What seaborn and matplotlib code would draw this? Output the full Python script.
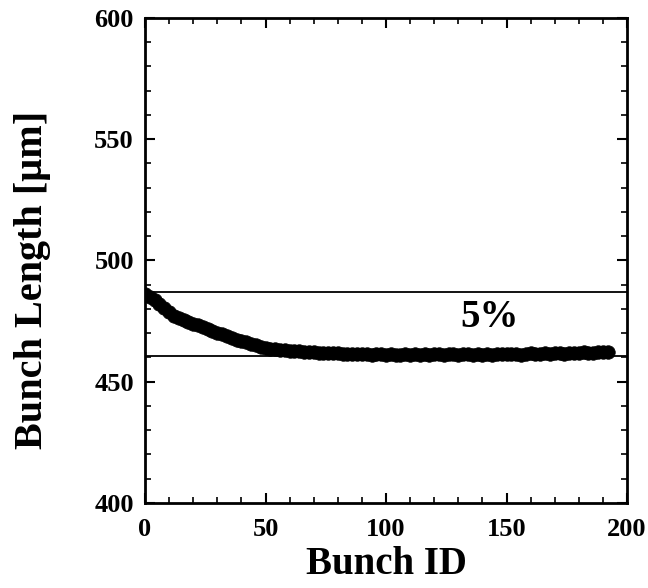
import numpy as np
import pandas as pd
import matplotlib
matplotlib.use("Agg")
import matplotlib.pyplot as plt
from matplotlib.ticker import MultipleLocator
import seaborn as sns

# Bunch ID (every second bunch)
bunch_id = list(range(0, 194, 2))

# Bunch length in micrometres
bunch_length = [
    486.0, 485.0, 483.6, 482.2, 480.5, 478.8, 477.3, 476.3, 475.4, 474.6,
    474.0, 473.3, 472.6, 471.8, 471.0, 470.2, 469.5, 468.8, 468.1, 467.4,
    466.8, 466.2, 465.6, 465.0, 464.5, 464.1, 463.7, 463.4, 463.2, 463.0,
    462.8, 462.7, 462.5, 462.4, 462.3, 462.1, 461.9, 462.0, 461.8, 461.7,
    461.8, 461.5, 461.4, 461.6, 461.3, 461.4, 461.5, 461.2, 461.3, 461.4,
    461.2, 461.4, 461.0, 461.2, 461.4, 461.1, 461.3, 461.1, 461.3, 461.2,
    461.4, 461.3, 461.1, 461.4, 461.3, 461.2, 461.5, 461.3, 461.2, 461.4,
    461.1, 461.4, 461.2, 461.3, 461.5, 461.3, 461.5, 461.4, 461.2, 461.5,
    461.7, 461.4, 461.6, 461.8, 461.5, 461.7, 461.9, 461.6, 462.0, 461.7,
    461.9, 462.1, 461.8, 462.0, 462.2, 462.4, 462.3,
]

# the two reference levels (5% band)
band_levels = [486.9, 460.6]
band_text = "5%"

df = pd.DataFrame({"Bunch ID": bunch_id, "Bunch Length": bunch_length})

sns.set_theme(style="ticks")
plt.rcParams["font.family"] = ["Liberation Serif", "DejaVu Serif"]
plt.rcParams["font.weight"] = "bold"
plt.rcParams["text.color"] = "black"
plt.rcParams["axes.labelcolor"] = "black"
plt.rcParams["xtick.color"] = "black"
plt.rcParams["ytick.color"] = "black"

fig = plt.figure(figsize=(6.48, 5.88), dpi=100)
ax = fig.add_axes([0.2238, 0.1446, 0.7438, 0.8248])

for lvl in band_levels:
    ax.axhline(lvl, color="black", lw=1.3, zorder=1)

sns.scatterplot(data=df, x="Bunch ID", y="Bunch Length", ax=ax,
                color="black", edgecolor="black", s=95, linewidth=0.5,
                legend=False, zorder=3)

ax.text(143, 476.3, band_text, fontsize=28, fontweight="bold",
        ha="center", va="center", color="black")

ax.set_xlim(0, 200)
ax.set_ylim(400, 600)
ax.xaxis.set_major_locator(MultipleLocator(50))
ax.xaxis.set_minor_locator(MultipleLocator(10))
ax.yaxis.set_major_locator(MultipleLocator(50))
ax.yaxis.set_minor_locator(MultipleLocator(10))
ax.tick_params(which="both", direction="in", top=True, right=True)
ax.tick_params(which="major", length=7, width=1.5, labelsize=19)
ax.tick_params(axis="x", which="major", pad=11)
ax.tick_params(axis="y", which="major", pad=8)
ax.tick_params(which="minor", length=4, width=1.2)
for lab in ax.get_xticklabels() + ax.get_yticklabels():
    lab.set_fontweight("bold")
for sp in ax.spines.values():
    sp.set_linewidth(2)
    sp.set_color("black")

ax.set_xlabel("Bunch ID", fontsize=28, fontweight="bold")
ax.set_ylabel("Bunch Length [μm]", fontsize=29, fontweight="bold")
ax.xaxis.set_label_coords(0.5, -0.088)
ax.yaxis.set_label_coords(-0.195, 0.46)

fig.savefig("out.png", dpi=100)
